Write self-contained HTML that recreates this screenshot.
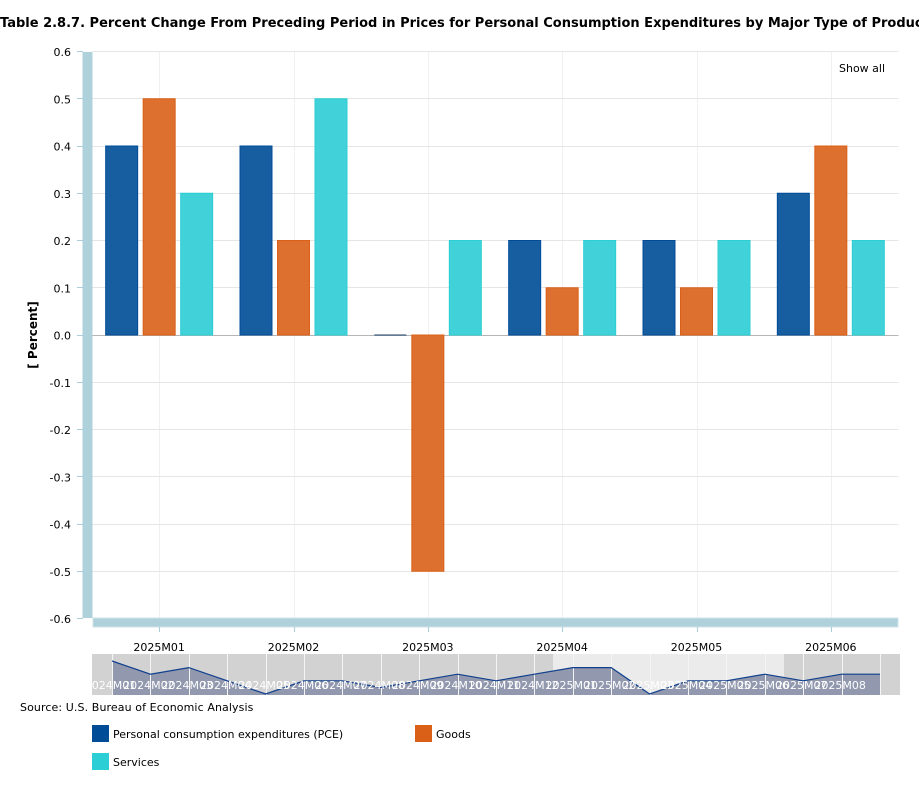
<!DOCTYPE html>
<html lang="en">
<head>
<meta charset="utf-8">
<title>Table 2.8.7 chart</title>
<style>
html,body{margin:0;padding:0;background:#fff;width:919px;height:800px;overflow:hidden}
svg{display:block;font-family:"DejaVu Sans","Liberation Sans",sans-serif;font-size:11px}
</style>
</head>
<body>
<svg id="chart" xmlns="http://www.w3.org/2000/svg" width="919" height="800" viewBox="0 0 919 800">
  <defs><clipPath id="nav-clip"><rect x="92" y="654" width="808" height="41"/></clipPath></defs>
  <text x="0" y="27" font-size="13" font-weight="bold" fill="#000">Table 2.8.7. Percent Change From Preceding Period in Prices for Personal Consumption Expenditures by Major Type of Product, Monthly</text>
  <g id="grid"></g>
  <g id="bars"></g>
  <rect x="82.5" y="52" width="10" height="566" fill="#afd1dc"/>
  <rect x="93" y="618" width="805" height="9" fill="#afd1dc" stroke="#d0e3ea" stroke-width="1"/>
  <g id="axes"></g>
  <text transform="translate(37,335) rotate(-90)" text-anchor="middle" font-size="12" font-weight="bold" fill="#000">[ Percent]</text>
  <text x="839" y="72" fill="#000">Show all</text>
  <g id="navigator" clip-path="url(#nav-clip)">
    <rect x="92" y="654" width="808" height="41" fill="#d2d2d2"/>
    <rect x="553" y="654" width="231" height="41" fill="#ebebeb"/>
    <path id="nav-area" fill="#9299ae"/>
    <g id="nav-grid"></g>
    <path id="nav-line" fill="none" stroke="#0f3f8c" stroke-width="1.2"/>
    <g id="nav-labels"></g>
  </g>
  <text x="20" y="711" fill="#000" letter-spacing="0.1">Source: U.S. Bureau of Economic Analysis</text>
  <g>
    <g>
      <rect x="92" y="725" width="17" height="17" fill="#004c97"/>
      <text x="113" y="738" fill="#000">Personal consumption expenditures (PCE)</text>
    </g>
    <g>
      <rect x="415" y="725" width="17" height="17" fill="#d96016"/>
      <text x="436" y="738" fill="#000">Goods</text>
    </g>
    <g>
      <rect x="92" y="753" width="17" height="17" fill="#2bced4"/>
      <text x="113" y="766" fill="#000">Services</text>
    </g>
  </g>
</svg>
<script>
const categories = ['2025M01','2025M02','2025M03','2025M04','2025M05','2025M06'];
const pceValues = [0.4,0.4,0.0,0.2,0.2,0.3];
const goodsValues = [0.5,0.2,-0.5,0.1,0.1,0.4];
const servicesValues = [0.3,0.5,0.2,0.2,0.2,0.2];
const yTickLabels = ['0.6','0.5','0.4','0.3','0.2','0.1','0.0','-0.1','-0.2','-0.3','-0.4','-0.5','-0.6'];
const navCategories = ['2024M01','2024M02','2024M03','2024M04','2024M05','2024M06','2024M07','2024M08','2024M09','2024M10','2024M11','2024M12','2025M01','2025M02','2025M03','2025M04','2025M05','2025M06','2025M07','2025M08'];
const navValues = [0.5,0.3,0.4,0.2,0.0,0.2,0.2,0.1,0.2,0.3,0.2,0.3,0.4,0.4,0.0,0.2,0.2,0.3,0.2,0.3];

const NS = 'http://www.w3.org/2000/svg';
const PLOT_LEFT = 92.5, PLOT_RIGHT = 898.5, Y_TOP = 51.5, Y_BOTTOM = 618.5, Y_MAX = 0.6, Y_MIN = -0.6;
const BAND = (PLOT_RIGHT - PLOT_LEFT) / categories.length;
const BAR_W = 32, BAR_STEP = 37.5;
const NAV_LEFT = 112, NAV_STEP = 38.4, NAV_ZERO = 694, NAV_PER_UNIT = 66;

function yScale(v){ return Y_TOP + (Y_MAX - v) / (Y_MAX - Y_MIN) * (Y_BOTTOM - Y_TOP); }
function xCenter(i){ return PLOT_LEFT + BAND * (i + 0.5); }
function navX(i){ return NAV_LEFT + NAV_STEP * i; }
function navY(v){ return NAV_ZERO - v * NAV_PER_UNIT; }
function make(tag, attrs, parent, text){
  const el = document.createElementNS(NS, tag);
  for (const k in attrs) el.setAttribute(k, attrs[k]);
  if (text !== undefined) el.textContent = text;
  parent.appendChild(el);
  return el;
}

const grid = document.getElementById('grid');
const axes = document.getElementById('axes');
const bars = document.getElementById('bars');

categories.forEach(function(c, i){
  const x = Math.floor(xCenter(i) + 0.01) + 0.5;
  const v = make('line', {x1:x, x2:x, y1:Y_TOP, y2:Y_BOTTOM, stroke:'#f0f0f0', 'stroke-width':1}, grid);
  
  
  const t = make('line', {x1:x, x2:x, y1:627, y2:632, stroke:'#a9cfdb', 'stroke-width':1}, axes);
  
  
  const l = make('text', {x:xCenter(i) - 0.5, y:651, 'text-anchor':'middle', fill:'#000'}, axes, c);
  
  
});

yTickLabels.forEach(function(lab){
  const val = parseFloat(lab);
  const y = Math.floor(yScale(val)) + 0.5;
  const zero = val === 0;
  const g = make('line', {x1:PLOT_LEFT, x2:PLOT_RIGHT, y1:y, y2:y, stroke: zero ? '#b5b5b5' : '#e6e6e6', 'stroke-width':1}, grid);
  
  
  const t = make('line', {x1:77, x2:83, y1:y, y2:y, stroke:'#a9cfdb', 'stroke-width':1}, axes);
  
  
  const l = make('text', {x:71, y:yScale(val) + 4.5, 'text-anchor':'end', fill:'#000'}, axes, lab);
  
  
});

const seriesList = [
  {key:'pce', values:pceValues, fill:'#175ea0', stroke:'#004c97', offset:-1},
  {key:'goods', values:goodsValues, fill:'#de702f', stroke:'#d96016', offset:0},
  {key:'services', values:servicesValues, fill:'#40d2d8', stroke:'#2bced4', offset:1}
];
seriesList.forEach(function(s){
  s.values.forEach(function(v, i){
    const x = xCenter(i) - 0.5 + s.offset * BAR_STEP - BAR_W / 2;
    const y0 = yScale(0), y1 = yScale(v);
    const d = 'M' + x + ' ' + y0 + ' V' + y1 + ' H' + (x + BAR_W) + ' V' + y0 + ' Z';
    const r = make('path', {d:d, fill:s.fill, stroke: (v === 0 ? '#173f6e' : s.stroke), 'stroke-width':1}, bars);
    
    
  });
});

let linePath = '';
navValues.forEach(function(v, i){
  linePath += (i ? 'L' : 'M') + navX(i) + ' ' + navY(v) + ' ';
});
linePath += 'L' + navX(navValues.length) + ' ' + navY(navValues[navValues.length - 1]);
document.getElementById('nav-line').setAttribute('d', linePath);
document.getElementById('nav-area').setAttribute('d', linePath + ' L' + navX(navValues.length) + ' 695 L' + navX(0) + ' 695 Z');

const navGrid = document.getElementById('nav-grid');
const navLabels = document.getElementById('nav-labels');
for (let i = 0; i <= navCategories.length; i++) {
  const x = Math.round(navX(i)) + 0.5;
  const g = make('line', {x1:x, x2:x, y1:654, y2:695, stroke:'#f5f5f5', 'stroke-width':1}, navGrid);
  
  
}
navCategories.forEach(function(c, i){
  const l = make('text', {x:navX(i) - 1.5, y:689, 'text-anchor':'middle', fill:'#fff'}, navLabels, c);
  
  
});
</script>
</body>
</html>
